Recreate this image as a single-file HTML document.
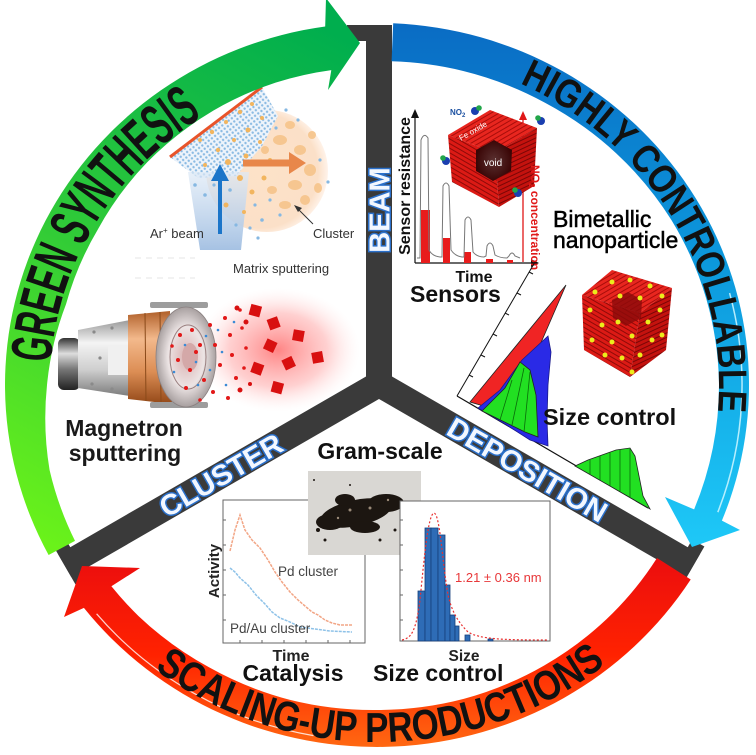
<!DOCTYPE html>
<html><head><meta charset="utf-8">
<style>
html,body{margin:0;padding:0;background:#fff;}
svg{display:block;}
text{font-family:"Liberation Sans",Arial,sans-serif;}
</style></head><body>
<svg xmlns="http://www.w3.org/2000/svg" width="756" height="755" viewBox="0 0 756 755">
<defs>
 <linearGradient id="gG" gradientUnits="userSpaceOnUse" x1="330" y1="30" x2="60" y2="550">
  <stop offset="0" stop-color="#00ae4e"/><stop offset="0.5" stop-color="#2fca38"/><stop offset="1" stop-color="#6af21a"/>
 </linearGradient>
 <linearGradient id="gB" gradientUnits="userSpaceOnUse" x1="0" y1="25" x2="0" y2="545">
  <stop offset="0" stop-color="#0a6cc4"/><stop offset="0.45" stop-color="#0c98dc"/><stop offset="1" stop-color="#1ec8f7"/>
 </linearGradient>
 <linearGradient id="gR" gradientUnits="userSpaceOnUse" x1="0" y1="560" x2="0" y2="750">
  <stop offset="0" stop-color="#ec0e0e"/><stop offset="0.5" stop-color="#ff2200"/><stop offset="1" stop-color="#ff6a12"/>
 </linearGradient>
 <radialGradient id="glow" cx="0.5" cy="0.5" r="0.5">
  <stop offset="0" stop-color="#ff5050" stop-opacity="0.7"/><stop offset="0.6" stop-color="#ff8a8a" stop-opacity="0.4"/><stop offset="1" stop-color="#ffdede" stop-opacity="0"/>
 </radialGradient>
 <radialGradient id="disc" cx="0.45" cy="0.5" r="0.55">
  <stop offset="0" stop-color="#fde2c8"/><stop offset="0.85" stop-color="#fbe0c8"/><stop offset="1" stop-color="#fff3ea"/>
 </radialGradient>
 <linearGradient id="beamG" x1="0" y1="0" x2="0" y2="1">
  <stop offset="0" stop-color="#dde9f6" stop-opacity="0.7"/><stop offset="1" stop-color="#a6c2e3"/>
 </linearGradient>
 <linearGradient id="knobG" x1="0" y1="0" x2="0" y2="1">
  <stop offset="0" stop-color="#333"/><stop offset="0.3" stop-color="#ddd"/><stop offset="0.6" stop-color="#777"/><stop offset="1" stop-color="#222"/>
 </linearGradient>
 <linearGradient id="silverG" x1="0" y1="0" x2="0" y2="1">
  <stop offset="0" stop-color="#9a9a9a"/><stop offset="0.3" stop-color="#f4f4f4"/><stop offset="0.65" stop-color="#cfcfcf"/><stop offset="1" stop-color="#7d7d7d"/>
 </linearGradient>
 <linearGradient id="copperG" x1="0" y1="0" x2="0" y2="1">
  <stop offset="0" stop-color="#b0602a"/><stop offset="0.3" stop-color="#f3b98c"/><stop offset="0.65" stop-color="#dc8e55"/><stop offset="1" stop-color="#934818"/>
 </linearGradient>
 <radialGradient id="dishG" cx="0.5" cy="0.5" r="0.5">
  <stop offset="0" stop-color="#d9b0b0"/><stop offset="0.6" stop-color="#ece4e4"/><stop offset="1" stop-color="#a8a0a0"/>
 </radialGradient>
 <pattern id="bdots" width="4" height="4" patternUnits="userSpaceOnUse" patternTransform="rotate(-37)">
  <rect width="4" height="4" fill="#eef4fb"/><circle cx="2" cy="2" r="1.2" fill="#8bbbe3"/>
 </pattern>
 <pattern id="rodT" width="4" height="4" patternUnits="userSpaceOnUse" patternTransform="rotate(-30)">
  <rect width="4" height="4" fill="#e8261f"/><rect y="3" width="4" height="1" fill="#a80d0a"/>
 </pattern>
 <pattern id="rodL" width="4" height="4" patternUnits="userSpaceOnUse" patternTransform="rotate(30)">
  <rect width="4" height="4" fill="#dc1a15"/><rect y="3" width="4" height="1" fill="#8e0a08"/>
 </pattern>
 <pattern id="rodR" width="4" height="4" patternUnits="userSpaceOnUse" patternTransform="rotate(-25)">
  <rect width="4" height="4" fill="#c4120e"/><rect y="3" width="4" height="1" fill="#7a0606"/>
 </pattern>
 <radialGradient id="voidG" cx="0.5" cy="0.5" r="0.5">
  <stop offset="0" stop-color="#5a3030"/><stop offset="1" stop-color="#3a0606"/>
 </radialGradient>
 <path id="tpG" d="M 50.8,362.9 A 327 317 0 0 1 200.8,117.9"/>
 <path id="tpB" d="M 519.9,83.4 A 342 332 0 0 1 718.0,409.9"/>
 <path id="tpR" d="M 154.6,669 A 367 357 0 0 0 609.5,661.2"/>
</defs>

<rect width="756" height="755" fill="#fff"/>

<!-- ============ TOP-LEFT: matrix sputtering ============ -->
<g>
 <line x1="135" y1="258" x2="195" y2="258" stroke="#e6e6e6" stroke-width="1" stroke-dasharray="6 5"/>
 <line x1="135" y1="278" x2="195" y2="278" stroke="#e6e6e6" stroke-width="1" stroke-dasharray="6 5"/>
 <circle cx="267" cy="171" r="61" fill="url(#disc)"/>
 <g fill="#f6c48a" opacity="0.9">
  <ellipse cx="280" cy="140" rx="7" ry="5"/><ellipse cx="300" cy="150" rx="6" ry="5"/><ellipse cx="310" cy="170" rx="6" ry="6"/>
  <ellipse cx="295" cy="185" rx="7" ry="5"/><ellipse cx="305" cy="200" rx="5" ry="5"/><ellipse cx="285" cy="205" rx="6" ry="4"/>
  <ellipse cx="318" cy="188" rx="4" ry="5"/><ellipse cx="272" cy="190" rx="5" ry="4"/><ellipse cx="290" cy="125" rx="5" ry="4"/>
  <ellipse cx="312" cy="135" rx="4" ry="4"/><ellipse cx="265" cy="150" rx="4" ry="4"/>
 </g>
 <polygon points="170,157 262,87 278,116 262,146 236,176 198,178" fill="url(#bdots)"/>
 <polygon points="188,172 249,172 241,250 200,250" fill="url(#beamG)"/>
 <g fill="#f2b55e">
  <circle cx="200" cy="140" r="2"/><circle cx="212" cy="132" r="2.2"/><circle cx="226" cy="122" r="2"/><circle cx="240" cy="112" r="2.2"/>
  <circle cx="252" cy="104" r="2"/><circle cx="218" cy="150" r="2.2"/><circle cx="234" cy="140" r="2"/><circle cx="248" cy="130" r="2.5"/>
  <circle cx="262" cy="118" r="2"/><circle cx="228" cy="162" r="3"/><circle cx="246" cy="156" r="2.5"/><circle cx="260" cy="142" r="2"/>
  <circle cx="205" cy="165" r="2"/><circle cx="240" cy="178" r="3"/><circle cx="252" cy="192" r="2.5"/><circle cx="226" cy="205" r="2.5"/>
  <circle cx="244" cy="212" r="2"/><circle cx="264" cy="178" r="2.5"/><circle cx="270" cy="160" r="2"/>
 </g>
 <g fill="#86b8e2">
  <circle cx="195" cy="185" r="1.8"/><circle cx="205" cy="195" r="1.8"/><circle cx="214" cy="185" r="1.6"/><circle cx="230" cy="190" r="1.8"/>
  <circle cx="255" cy="205" r="1.6"/><circle cx="262" cy="220" r="1.8"/><circle cx="250" cy="228" r="1.6"/><circle cx="270" cy="200" r="1.6"/>
  <circle cx="280" cy="215" r="1.6"/><circle cx="286" cy="110" r="1.6"/><circle cx="298" cy="120" r="1.6"/><circle cx="320" cy="160" r="1.6"/>
  <circle cx="328" cy="182" r="1.6"/><circle cx="276" cy="128" r="1.6"/><circle cx="258" cy="238" r="1.6"/><circle cx="236" cy="225" r="1.6"/>
 </g>
 <line x1="170" y1="157" x2="262" y2="87" stroke="#e8542a" stroke-width="3"/>
 <line x1="220" y1="234" x2="220" y2="178" stroke="#1b75c9" stroke-width="4"/>
 <polygon points="211,181 220,164 229,181" fill="#1b75c9"/>
 <line x1="243" y1="163" x2="291" y2="163" stroke="#e8874a" stroke-width="7"/>
 <polygon points="289,152 306,163 289,174" fill="#e8874a"/>
 <line x1="313" y1="224" x2="297" y2="208" stroke="#333" stroke-width="1"/>
 <polygon points="294,205 302,208 298,212" fill="#333"/>
 <text x="150" y="238" font-size="13" fill="#333">Ar<tspan font-size="8" dy="-5">+</tspan><tspan dy="5"> beam</tspan></text>
 <text x="313" y="238" font-size="13" fill="#333">Cluster</text>
 <text x="233" y="273" font-size="13" fill="#333">Matrix sputtering</text>
</g>

<!-- ============ Magnetron ============ -->
<g>
 <ellipse cx="278" cy="350" rx="82" ry="62" fill="url(#glow)"/>
 <rect x="58" y="338" width="22" height="52" rx="6" fill="url(#knobG)"/>
 <path d="M78,330 L130,320 L130,396 L78,388 Z" fill="url(#silverG)"/>
 <rect x="108" y="345" width="22" height="30" fill="#f0f0f0"/>
 <g fill="#8a8a8a"><circle cx="94" cy="332" r="1.6"/><circle cx="112" cy="328" r="1.6"/><circle cx="92" cy="384" r="1.6"/><circle cx="112" cy="389" r="1.6"/><circle cx="100" cy="358" r="1.6"/></g>
 <path d="M128,315 L170,311 L172,404 L128,399 Z" fill="url(#copperG)"/>
 <line x1="145" y1="313" x2="146" y2="401" stroke="#8a4a1a" stroke-width="1"/>
 <line x1="160" y1="312" x2="161" y2="403" stroke="#8a4a1a" stroke-width="1"/>
 <rect x="150" y="302" width="58" height="6" rx="2" fill="#9d9d9d"/>
 <rect x="150" y="402" width="58" height="6" rx="2" fill="#9d9d9d"/>
 <ellipse cx="186" cy="357" rx="30" ry="50" fill="url(#dishG)" stroke="#8a8080" stroke-width="0.8"/>
 <ellipse cx="188" cy="357" rx="18" ry="32" fill="none" stroke="#9a8080" stroke-width="1"/>
 <ellipse cx="190" cy="357" rx="8" ry="14" fill="#d4a8a8"/>
 <g fill="#e21818">
  <circle cx="180" cy="335" r="2"/><circle cx="192" cy="330" r="2"/><circle cx="200" cy="345" r="2"/><circle cx="178" cy="360" r="2"/>
  <circle cx="190" cy="370" r="2"/><circle cx="204" cy="380" r="2"/><circle cx="186" cy="388" r="2"/><circle cx="210" cy="325" r="2"/>
  <circle cx="215" cy="345" r="2"/><circle cx="220" cy="365" r="2"/><circle cx="213" cy="392" r="2"/><circle cx="225" cy="318" r="2"/>
  <circle cx="230" cy="335" r="2"/><circle cx="232" cy="355" r="2"/><circle cx="236" cy="378" r="2"/><circle cx="228" cy="398" r="2"/>
  <circle cx="242" cy="328" r="1.8"/><circle cx="246" cy="348" r="1.8"/><circle cx="244" cy="368" r="1.8"/><circle cx="240" cy="310" r="1.8"/>
  <circle cx="196" cy="352" r="2"/><circle cx="172" cy="346" r="1.8"/><circle cx="200" cy="400" r="1.8"/>
 </g>
 <g fill="#3a8ad6">
  <circle cx="185" cy="345" r="1.3"/><circle cx="196" cy="362" r="1.3"/><circle cx="206" cy="336" r="1.3"/><circle cx="174" cy="372" r="1.3"/>
  <circle cx="210" cy="370" r="1.3"/><circle cx="222" cy="352" r="1.3"/><circle cx="218" cy="330" r="1.3"/><circle cx="198" cy="385" r="1.3"/>
  <circle cx="226" cy="385" r="1.3"/><circle cx="234" cy="322" r="1.3"/>
 </g>
 <g fill="#d81010">
  <rect x="250" y="305" width="11" height="11" transform="rotate(15 255 310)"/>
  <rect x="268" y="318" width="11" height="11" transform="rotate(-20 273 323)"/>
  <rect x="293" y="330" width="11" height="11" transform="rotate(10 298 335)"/>
  <rect x="265" y="340" width="11" height="11" transform="rotate(25 270 345)"/>
  <rect x="312" y="352" width="11" height="11" transform="rotate(-10 317 357)"/>
  <rect x="252" y="363" width="11" height="11" transform="rotate(20 257 368)"/>
  <rect x="283" y="358" width="11" height="11" transform="rotate(-25 288 363)"/>
  <rect x="272" y="382" width="11" height="11" transform="rotate(15 277 387)"/>
  <circle cx="237" cy="308" r="2.5"/><circle cx="246" cy="322" r="2.5"/><circle cx="240" cy="390" r="2.5"/><circle cx="250" cy="384" r="2"/>
 </g>
 <text x="124" y="436" font-size="23" font-weight="bold" fill="#1a1a1a" text-anchor="middle">Magnetron</text>
 <text x="125" y="461" font-size="23" font-weight="bold" fill="#1a1a1a" text-anchor="middle">sputtering</text>
</g>

<!-- ============ Sensors ============ -->
<g>
 <g stroke="#111" stroke-width="1.2" fill="none">
  <line x1="415" y1="263" x2="415" y2="116"/><line x1="415" y1="263" x2="532" y2="263"/>
 </g>
 <polygon points="411,118 415,109 419,118" fill="#111"/>
 <polygon points="531,259 539,263 531,267" fill="#111"/>
 <line x1="523" y1="262" x2="523" y2="118" stroke="#e01818" stroke-width="1.3"/>
 <polygon points="519,120 523,111 527,120" fill="#e01818"/>
 <g fill="#e81c1c">
  <rect x="421" y="210" width="9" height="53"/><rect x="443" y="238" width="7" height="25"/>
  <rect x="464" y="252" width="7" height="11"/><rect x="486" y="259" width="7" height="4"/><rect x="507" y="260" width="6" height="3"/>
 </g>
 <path d="M417,258 L420,258 L421,140 Q424,132 428,138 L429,250 Q432,256 440,257 L442,257 L443,186 Q446,180 449,186 L451,250 Q455,256 462,257 L464,257 L465,220 Q468,214 471,220 L473,252 Q477,257 484,257 L486,256 L487,246 Q490,240 493,246 L495,255 Q500,258 507,258 L509,256 Q512,250 515,256 L520,258" fill="none" stroke="#777" stroke-width="1"/>
 <polygon points="448,135 490,110 537,128 495,153" fill="url(#rodT)"/>
 <polygon points="448,135 495,153 499,207 452,182" fill="url(#rodL)"/>
 <polygon points="495,153 537,128 534,186 499,207" fill="url(#rodR)"/>
 <polygon points="476,150 494,140 512,150 511,171 493,181 476,171" fill="url(#voidG)"/>
 <text x="493" y="166" font-size="10" fill="#fff" text-anchor="middle">void</text>
 <text x="461" y="141" font-size="8" fill="#fff" transform="rotate(-30 461 141)">Fe oxide</text>
 <g>
  <circle cx="475" cy="111" r="4" fill="#1a3fb0"/><circle cx="479" cy="108" r="2.8" fill="#22a64a"/>
  <circle cx="541" cy="121" r="4" fill="#1a3fb0"/><circle cx="538" cy="118" r="2.8" fill="#22a64a"/>
  <circle cx="446" cy="161" r="4" fill="#1a3fb0"/><circle cx="443" cy="158" r="2.8" fill="#22a64a"/>
  <circle cx="518" cy="193" r="4" fill="#1a3fb0"/><circle cx="515" cy="190" r="2.8" fill="#22a64a"/>
 </g>
 <text x="450" y="115" font-size="8" font-weight="bold" fill="#1a4fa0">NO<tspan font-size="6" dy="2">2</tspan></text>
 <text transform="translate(410,186) rotate(-90)" font-size="16" font-weight="bold" fill="#111" text-anchor="middle">Sensor resistance</text>
 <text transform="translate(531,165) rotate(90)" font-size="12" font-weight="bold" fill="#e01818">NO<tspan font-size="8" dy="2">2</tspan><tspan dy="-2"> concentration</tspan></text>
 <text x="474" y="282" font-size="16" font-weight="bold" fill="#111" text-anchor="middle">Time</text>
 <text x="410" y="302" font-size="23" font-weight="bold" fill="#111">Sensors</text>
</g>

<!-- Bimetallic -->
<text x="553" y="227" font-size="23" fill="#000" stroke="#000" stroke-width="0.5">Bimetallic</text>
<text x="553" y="248" font-size="23" fill="#000" stroke="#000" stroke-width="0.5">nanoparticle</text>
<g>
 <polygon points="582,295 612,270 672,288 640,313" fill="url(#rodT)"/>
 <polygon points="582,295 640,313 630,377 584,350" fill="url(#rodL)"/>
 <polygon points="640,313 672,288 666,350 630,377" fill="url(#rodR)"/>
 <polygon points="612,300 628,292 642,300 641,318 626,326 613,318" fill="#8a0a0a" opacity="0.8"/>
 <g fill="#ecec1c">
  <circle cx="595" cy="292" r="2.5"/><circle cx="612" cy="282" r="2.5"/><circle cx="630" cy="280" r="2.5"/><circle cx="650" cy="286" r="2.5"/>
  <circle cx="662" cy="296" r="2.5"/><circle cx="620" cy="296" r="2.5"/><circle cx="640" cy="298" r="2.5"/>
  <circle cx="590" cy="310" r="2.5"/><circle cx="602" cy="325" r="2.5"/><circle cx="592" cy="340" r="2.5"/><circle cx="612" cy="342" r="2.5"/>
  <circle cx="622" cy="358" r="2.5"/><circle cx="605" cy="355" r="2.5"/><circle cx="618" cy="322" r="2.5"/><circle cx="632" cy="336" r="2.5"/>
  <circle cx="648" cy="322" r="2.5"/><circle cx="660" cy="310" r="2.5"/><circle cx="652" cy="340" r="2.5"/><circle cx="640" cy="355" r="2.5"/>
  <circle cx="662" cy="335" r="2.5"/><circle cx="632" cy="372" r="2.5"/>
 </g>
</g>

<!-- ============ Size control (rotated chart) ============ -->
<g>
 <line x1="457" y1="396" x2="648" y2="508" stroke="#111" stroke-width="1.2"/>
 <line x1="457" y1="396" x2="535" y2="262" stroke="#111" stroke-width="1"/>
 <g stroke="#111" stroke-width="1">
  <line x1="469" y1="375" x2="473" y2="377"/><line x1="481" y1="355" x2="485" y2="357"/><line x1="493" y1="334" x2="497" y2="336"/>
  <line x1="505" y1="313" x2="509" y2="315"/><line x1="517" y1="293" x2="521" y2="295"/><line x1="529" y1="272" x2="533" y2="274"/>
 </g>
 <polygon points="470,402 566,285 540,345 512,396 494,409" fill="#f02424" stroke="#222" stroke-width="0.8"/>
 <polygon points="478,408 500,390 522,360 548,336 551,352 548,385 547,420 548,446 530,440 505,424" fill="#2a2ae6" stroke="#1a1a8a" stroke-width="0.8"/>
 <polygon points="482,411 505,388 520,362 530,370 536,395 538,437 525,432" fill="#22e022" stroke="#222" stroke-width="0.8"/>
 <g stroke="#0a6a0a" stroke-width="0.8"><line x1="500" y1="420" x2="512" y2="380"/><line x1="512" y1="425" x2="524" y2="368"/><line x1="524" y1="432" x2="530" y2="372"/></g>
 <path d="M575,466 L588,460 L602,455 L616,450 L630,448 L635,456 L639,476 L643,496 L650,509 Z" fill="#22e022" stroke="#222" stroke-width="0.8"/>
 <g stroke="#0a6a0a" stroke-width="0.8"><line x1="590" y1="474" x2="590" y2="460"/><line x1="600" y1="480" x2="600" y2="456"/><line x1="610" y1="486" x2="610" y2="452"/><line x1="620" y1="492" x2="620" y2="450"/><line x1="630" y1="498" x2="630" y2="449"/></g>
 <text x="543" y="425" font-size="23.5" font-weight="bold" fill="#111">Size control</text>
</g>

<!-- ============ Bottom: Gram-scale, catalysis, histogram ============ -->
<text x="380" y="459" font-size="23" font-weight="bold" fill="#111" text-anchor="middle">Gram-scale</text>
<g>
 <rect x="223" y="500" width="142" height="143" fill="#fff" stroke="#666" stroke-width="1"/>
 <g stroke="#666" stroke-width="1">
  <line x1="223" y1="520" x2="226" y2="520"/><line x1="223" y1="545" x2="226" y2="545"/><line x1="223" y1="570" x2="226" y2="570"/>
  <line x1="223" y1="595" x2="226" y2="595"/><line x1="223" y1="620" x2="226" y2="620"/>
  <line x1="240" y1="643" x2="240" y2="640"/><line x1="262" y1="643" x2="262" y2="640"/><line x1="284" y1="643" x2="284" y2="640"/>
  <line x1="306" y1="643" x2="306" y2="640"/><line x1="328" y1="643" x2="328" y2="640"/><line x1="350" y1="643" x2="350" y2="640"/>
 </g>
 <polyline points="230,551 235,530 240,515 245,530 252,540 260,548 268,560 275,572 282,582 290,592 298,600 305,606 312,612 318,615 325,620 332,623 340,625 352,625" fill="none" stroke="#f2a585" stroke-width="1.5" stroke-dasharray="3 1"/>
 <polyline points="230,568 235,572 240,578 248,585 256,595 265,604 272,612 280,618 290,622 300,627 315,629 330,631 352,632" fill="none" stroke="#8ec2e8" stroke-width="1.5" stroke-dasharray="3 1"/>
 <text x="278" y="576" font-size="13.5" fill="#444">Pd cluster</text>
 <text x="230" y="633" font-size="13.5" fill="#444">Pd/Au cluster</text>
 <text transform="translate(219,571) rotate(-90)" font-size="15" font-weight="bold" fill="#222" text-anchor="middle">Activity</text>
 <text x="291" y="661" font-size="16" font-weight="bold" fill="#222" text-anchor="middle">Time</text>
 <text x="293" y="681" font-size="23" font-weight="bold" fill="#111" text-anchor="middle">Catalysis</text>
</g>
<g>
 <rect x="308" y="471" width="113" height="84" fill="#d9d7d3"/>
 <g fill="#1c1611">
  <ellipse cx="356" cy="513" rx="36" ry="13" transform="rotate(-12 356 513)"/>
  <ellipse cx="330" cy="522" rx="14" ry="8"/><ellipse cx="386" cy="503" rx="18" ry="9"/>
  <ellipse cx="365" cy="527" rx="15" ry="6"/><ellipse cx="345" cy="500" rx="10" ry="6"/>
  <circle cx="318" cy="530" r="2"/><circle cx="402" cy="520" r="2"/><circle cx="395" cy="530" r="1.5"/><circle cx="325" cy="540" r="1.5"/>
  <circle cx="410" cy="505" r="1.5"/><circle cx="380" cy="540" r="1.5"/><circle cx="314" cy="480" r="1"/><circle cx="350" cy="485" r="1"/>
 </g>
 <g fill="#9a8a78"><circle cx="350" cy="510" r="1.5"/><circle cx="370" cy="508" r="1.5"/><circle cx="338" cy="518" r="1.2"/><circle cx="388" cy="500" r="1.2"/></g>
</g>
<g>
 <rect x="400" y="501" width="150" height="140" fill="#fff" stroke="#666" stroke-width="1"/>
 <g stroke="#666" stroke-width="1">
  <line x1="400" y1="520" x2="403" y2="520"/><line x1="400" y1="545" x2="403" y2="545"/><line x1="400" y1="570" x2="403" y2="570"/>
  <line x1="400" y1="595" x2="403" y2="595"/><line x1="400" y1="620" x2="403" y2="620"/>
 </g>
 <g fill="#2e6cb6" stroke="#173f7a" stroke-width="0.8">
  <rect x="418" y="591" width="7" height="50"/><rect x="425" y="528" width="6" height="113"/><rect x="431" y="528" width="7" height="113"/>
  <rect x="438" y="535" width="7" height="106"/><rect x="445" y="585" width="5" height="56"/><rect x="450" y="615" width="5" height="26"/>
  <rect x="455" y="626" width="4" height="15"/><rect x="465" y="635" width="5" height="6"/><rect x="488" y="639" width="5" height="2"/>
 </g>
 <path d="M402,640 C412,638 416,630 420,600 C424,560 428,514 434,513 C440,514 442,560 448,595 C452,612 458,622 468,632 C480,639 500,640 548,640" fill="none" stroke="#e83030" stroke-width="1.2" stroke-dasharray="2 2"/>
 <text x="455" y="582" font-size="13" fill="#e8383a">1.21 ± 0.36 nm</text>
 <text x="464" y="661" font-size="15.5" font-weight="bold" fill="#222" text-anchor="middle">Size</text>
 <text x="373" y="681" font-size="23" font-weight="bold" fill="#111">Size control</text>
</g>

<!-- ============ Y bar ============ -->
<g fill="#3a3a3a">
 <polygon points="366,25 392,25 392,376.5 699.9,554.2 686.9,576.8 379,399 71.1,576.8 58.1,554.2 366,376.5"/>
 <rect x="347" y="25" width="45" height="16"/>
 <polygon points="692.2,539.5 704.4,546.5 686.4,577.6 674.2,570.6"/>
 <polygon points="66.8,541.2 54.6,548.2 75.6,584.6 87.8,577.6"/>
</g>

<!-- ============ Ring bands ============ -->
<path fill="url(#gG)" d="M 48.6,555.0 A 372 362 0 0 1 325.2,26.5 L 326,-2 L 360,43 L 328,90 L 331.3,70.1 A 328 318 0 0 0 275.6,82.6 A 327 317 0 0 0 213.5,110.5 A 325 315 0 0 0 147.2,162.3 A 323 313 0 0 0 98.1,229 A 322 312 0 0 0 66,304.3 A 326 316 0 0 0 47,385 A 335 325 0 0 0 49.6,470.1 A 340 330 0 0 0 75,540.9 Z"/>
<path fill="url(#gB)" d="M 393.2,23.3 A 372 362 0 0 1 721.9,520.6 L 740,530 L 692,547 L 665,497 L 694.1,509.4 A 342 332 0 0 0 719,385 A 342 332 0 0 0 706.4,299.3 A 341 331 0 0 0 671.4,220 A 339 329 0 0 0 616,153.1 A 337 327 0 0 0 545,102.7 A 335 325 0 0 0 463.7,71.1 A 334 324 0 0 0 391.6,61.3 Z"/>
<path fill="url(#gR)" d="M 690.7,579.5 A 372 362 0 0 1 83.9,607.9 L 64,617 L 82,566 L 140,568 L 111.4,586.3 A 336 326 0 0 0 138.7,616.2 A 336 326 0 0 0 209,667.3 A 336 326 0 0 0 290,699.9 A 335 325 0 0 0 377,710 A 335 325 0 0 0 463.7,698.9 A 334 324 0 0 0 544,665.6 A 333 323 0 0 0 612.5,613.4 A 332 322 0 0 0 657,558 Z"/>
<path d="M 729.6,293.1 A 365 355 0 0 1 717.8,512.2" fill="none" stroke="#c8f4ff" stroke-width="1.5" opacity="0.9"/>
<path d="M 96.6,613.8 A 366 356 0 0 0 313.4,735.6" fill="none" stroke="#ffffff" stroke-width="1.2" opacity="0.8"/>

<!-- ============ Ring texts ============ -->
<text font-size="58" font-weight="bold" fill="#111"><textPath href="#tpG" textLength="300" lengthAdjust="spacingAndGlyphs">GREEN SYNTHESIS</textPath></text>
<text font-size="40" font-weight="bold" fill="#111"><textPath href="#tpB" textLength="409" lengthAdjust="spacingAndGlyphs">HIGHLY CONTROLLABLE</textPath></text>
<text font-size="42" font-weight="bold" fill="#111"><textPath href="#tpR" textLength="484" lengthAdjust="spacingAndGlyphs">SCALING-UP PRODUCTIONS</textPath></text>

<!-- ============ Bar labels ============ -->
<g font-size="29" font-weight="bold" fill="#f2f7ff" stroke="#2a6fc9" stroke-width="3" paint-order="stroke" text-anchor="middle">
 <text transform="translate(389.5,210) rotate(-90)">BEAM</text>
 <text transform="translate(226,484) rotate(-30)">CLUSTER</text>
 <text transform="translate(522.3,478.5) rotate(30)">DEPOSITION</text>
</g>
</svg>
</body></html>
